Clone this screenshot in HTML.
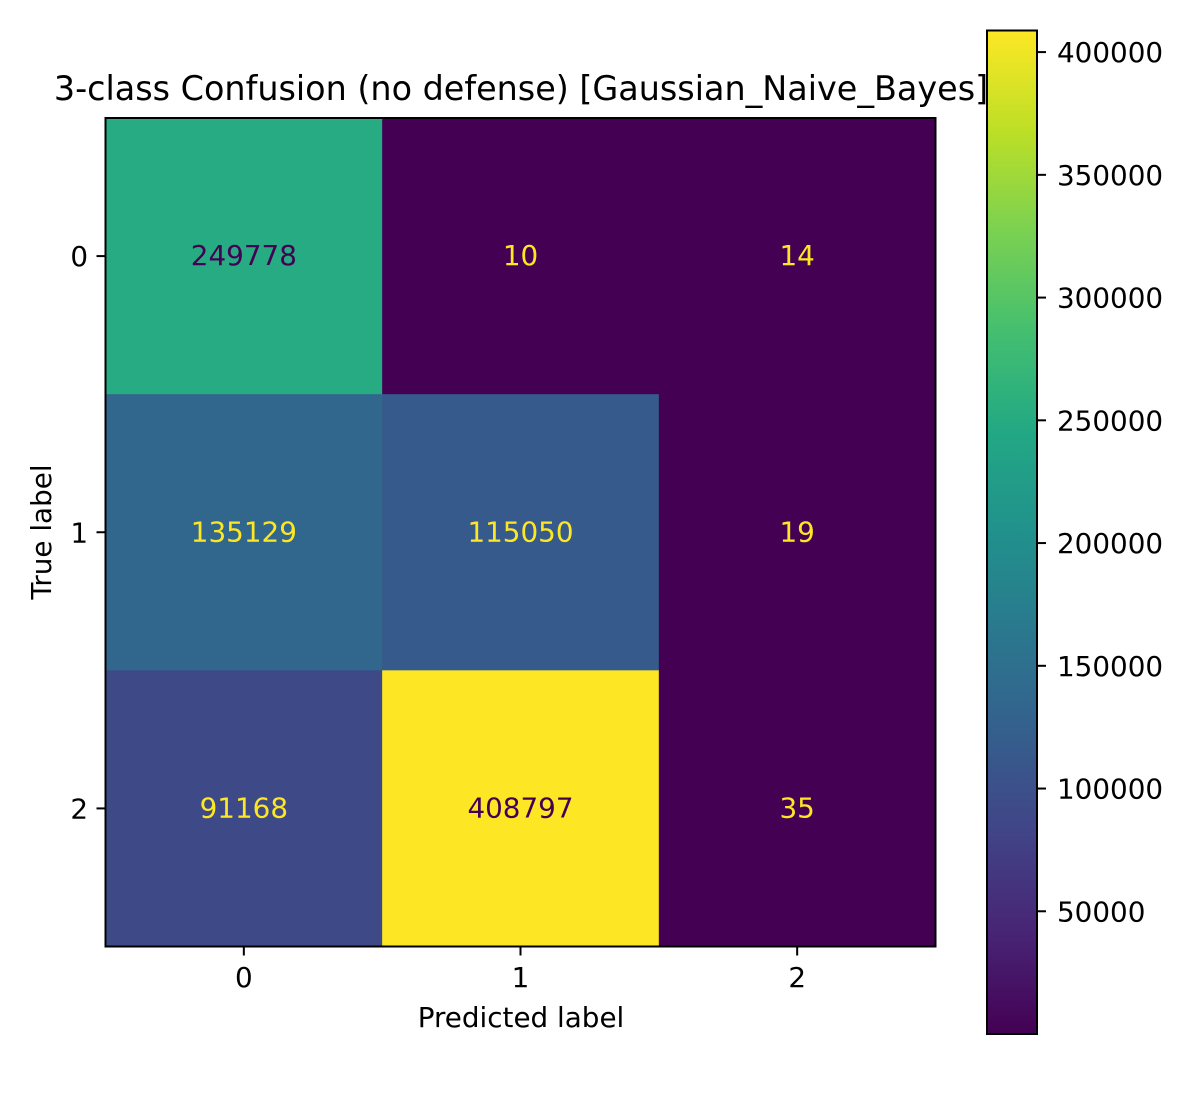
<!DOCTYPE html>
<html><head><meta charset="utf-8"><style>
html,body{margin:0;padding:0;background:#fff}
svg text{font-family:"DejaVu Sans","Liberation Sans",sans-serif}
</style></head><body>
<svg id="chart" width="1200" height="1100" xmlns="http://www.w3.org/2000/svg">
<rect width="1200" height="1100" fill="#fff"/>
<text x="521" y="100" font-size="33.4" text-anchor="middle">3-class Confusion (no defense) [Gaussian_Naive_Bayes]</text>
<g id="cells"></g>
<rect x="105.5" y="118" width="830" height="828.5" fill="none" stroke="#000" stroke-width="2"/>
<g id="axes"></g>
<text x="521" y="1027" font-size="27.8" text-anchor="middle">Predicted label</text>
<text transform="translate(51,532) rotate(-90)" font-size="27.8" text-anchor="middle">True label</text>
<defs><linearGradient id="vir" x1="0" y1="1" x2="0" y2="0"></linearGradient></defs>
<rect x="987" y="30.5" width="50" height="1003.5" fill="url(#vir)" stroke="#000" stroke-width="2"/>
<g id="cbticks"></g>
</svg>
<script>
const classes=["0","1","2"];
const row0=[249778,10,14];
const row1=[135129,115050,19];
const row2=[91168,408797,35];
const cbTicks=[50000,100000,150000,200000,250000,300000,350000,400000];
const rows=[row0,row1,row2];
const VIR=["#440154","#482475","#414487","#355f8d","#2a788e","#21918c","#22a884","#44bf70","#7ad151","#bddf26","#fde725"];
function hex(c){return [1,3,5].map(i=>parseInt(c.substr(i,2),16));}
function viridis(t){t=Math.max(0,Math.min(1,t));const p=t*10,i=Math.min(9,Math.floor(p)),f=p-i;const a=hex(VIR[i]),b=hex(VIR[i+1]);return "rgb("+a.map((v,k)=>Math.round(v+(b[k]-v)*f)).join(",")+")";}
const all=rows.flat();const vmin=Math.min(...all),vmax=Math.max(...all);
const X0=105.5,Y0=118,W=830,H=828.5,n=classes.length,cw=W/n,ch=H/n;
const xs=i=>X0+cw*(i+0.5), ys=i=>Y0+ch*(i+0.5);
const ns="http://www.w3.org/2000/svg";
function mk(tag,attrs,parent){const e=document.createElementNS(ns,tag);for(const k in attrs)e.setAttribute(k,attrs[k]);parent.appendChild(e);return e;}
const cells=document.getElementById('cells');
rows.forEach((r,i)=>r.forEach((v,j)=>{
 const t=(v-vmin)/(vmax-vmin);
 const rc=mk('rect',{x:X0+cw*j,y:Y0+ch*i,width:cw+0.5,height:ch+0.5,fill:viridis(t)},cells);
 
 
 const tx=mk('text',{x:xs(j),y:ys(i)+9,'font-size':27.8,'text-anchor':'middle',fill:v>(vmax+vmin)/2?VIR[0]:VIR[10]},cells);
 tx.textContent=v;
 
 
}));
const axes=document.getElementById('axes');
classes.forEach((c,i)=>{
 mk('line',{x1:xs(i),x2:xs(i),y1:946.5,y2:955.5,stroke:'#000','stroke-width':2},axes);
 const t=mk('text',{x:xs(i),y:987,'font-size':27.8,'text-anchor':'middle'},axes);t.textContent=c;
 
 
 mk('line',{x1:96.5,x2:105.5,y1:ys(i),y2:ys(i),stroke:'#000','stroke-width':2},axes);
 const u=mk('text',{x:88,y:ys(i)+10,'font-size':27.8,'text-anchor':'end'},axes);u.textContent=c;
 
 
});
const g=document.querySelector('#vir');
for(let k=0;k<=10;k++)mk('stop',{offset:k/10,'stop-color':VIR[k]},g);
const CB0=30.5,CB1=1034;
const cy=v=>CB1-(v-vmin)/(vmax-vmin)*(CB1-CB0);
const cbg=document.getElementById('cbticks');
cbTicks.forEach(v=>{
 mk('line',{x1:1037,x2:1046,y1:cy(v),y2:cy(v),stroke:'#000','stroke-width':2},cbg);
 const t=mk('text',{x:1057,y:cy(v)+10,'font-size':27.8},cbg);t.textContent=v;
 
 
});
</script>
</body></html>
